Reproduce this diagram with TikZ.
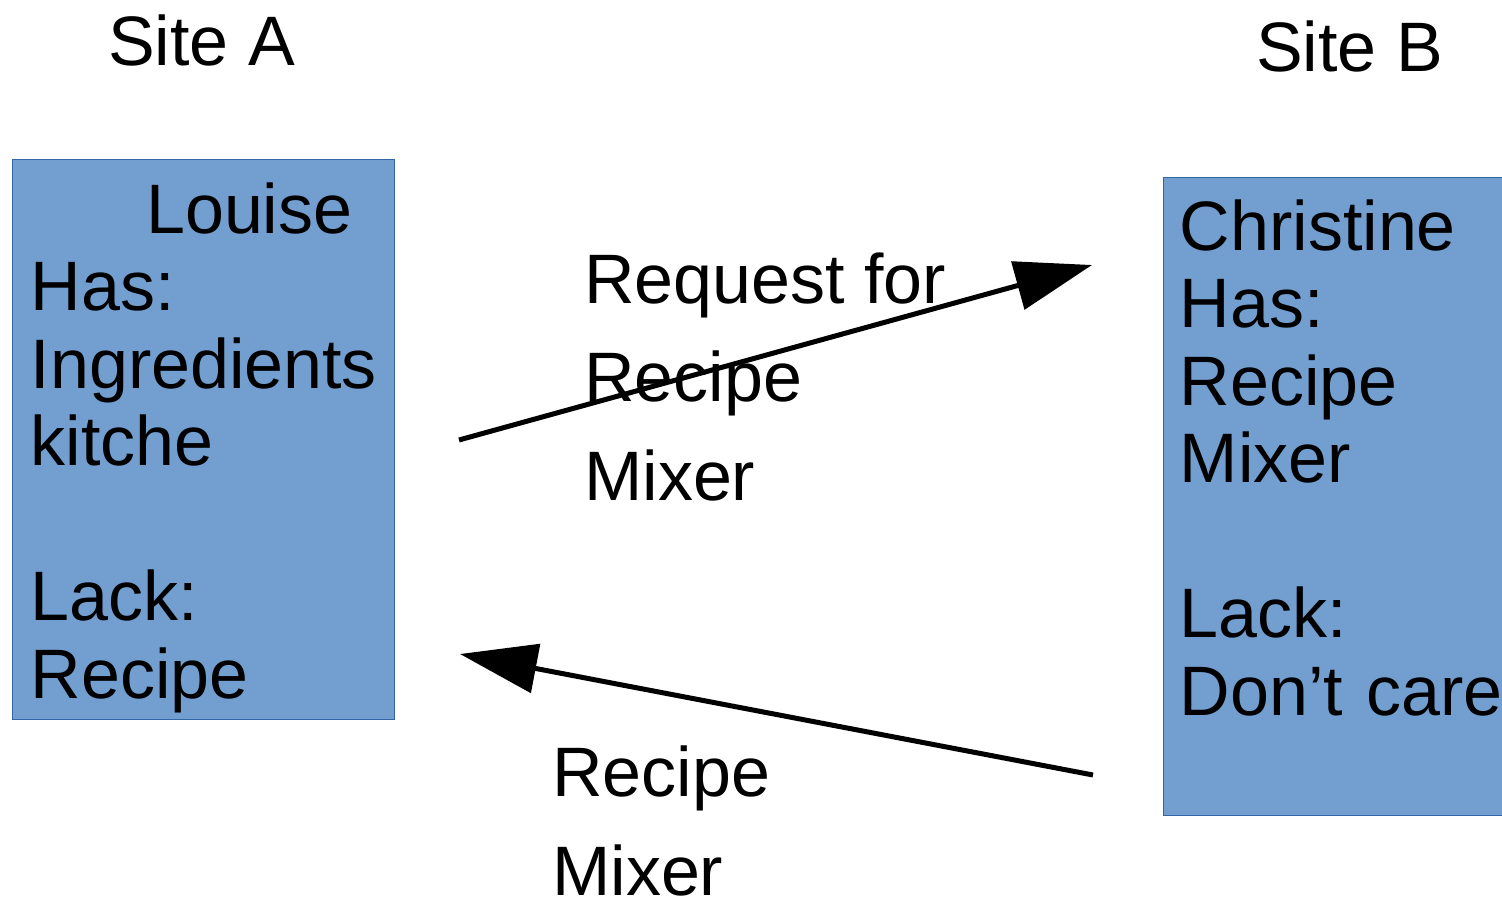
\documentclass[tikz,border=0pt]{standalone}
\usepackage{fontspec}
\setmainfont{Liberation Sans}
\usetikzlibrary{arrows.meta,positioning,calc}
\definecolor{SiteFill}{HTML}{729FCF}
\definecolor{SiteEdge}{HTML}{3465A4}
\begin{document}
\begin{tikzpicture}[x=1pt,y=-1pt,>={Triangle[length=77pt,width=49pt]},every node/.style={font=\fontsize{70}{77.5}\selectfont,inner sep=0pt}]
\tikzset{siteblock/.style={draw=SiteEdge,fill=SiteFill,line width=1pt,anchor=north west},boxtext/.style={anchor=base west,align=left,text width=330pt},msg/.style={anchor=base west,align=left,font=\fontsize{70}{98.5}\selectfont},flow/.style={->,line width=5pt}}
\useasboundingbox (0,0) rectangle (1502,899);
\node[anchor=base west] (sitea) at (108,66) {Site A};
\node[anchor=base west] (siteb) at (1256,72) {Site B};
\node[siteblock,minimum width=382pt,minimum height=560pt] (louise) at (12,159) {};
\node[siteblock,minimum width=360pt,minimum height=638pt] (christine) at (1163,177) {};
\node[boxtext] (louisetext) at ([shift={(18.5,74)}]louise.north west) {\hspace*{115.5pt}Louise\\Has:\\Ingredients\\kitche\\[77.5pt]Lack:\\Recipe};
\node[boxtext] (christinetext) at ([shift={(16.5,73)}]christine.north west) {Christine\\Has:\\Recipe\\Mixer\\[77.5pt]Lack:\\Don’t care};
\coordinate (reqfrom) at (459,440);
\coordinate (reqto) at (1092,265);
\coordinate (sendfrom) at (1093,775);
\coordinate (sendto) at (460,654);
\draw[flow] (reqfrom)--(reqto);
\draw[flow] (sendfrom)--(sendto);
\node[msg] (request) at (584,500) {Request for\\Recipe\\Mixer};
\node[msg] (reply) at (552,895) {Recipe\\Mixer};
\end{tikzpicture}
\end{document}
